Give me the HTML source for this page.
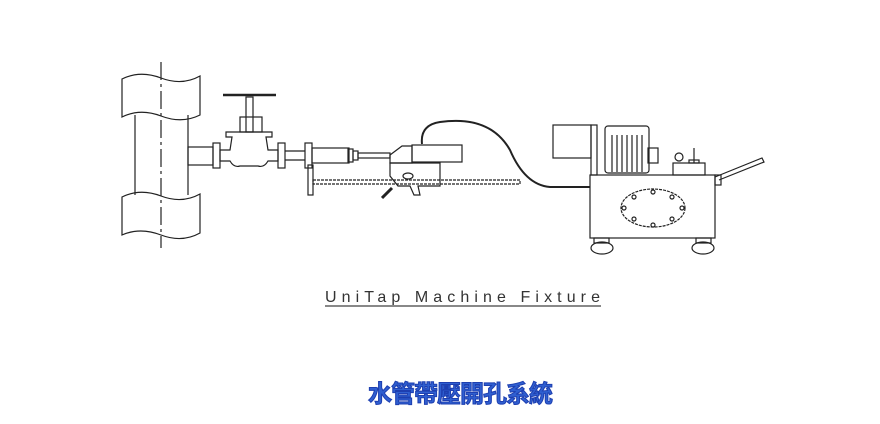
<!DOCTYPE html>
<html><head><meta charset="utf-8"><style>
html,body{margin:0;padding:0;background:#fff;width:880px;height:424px;overflow:hidden}
.cn{position:absolute;left:360px;top:374px;width:200px;text-align:center;font-family:"Liberation Sans","Noto Sans CJK TC",sans-serif;font-weight:bold;font-size:24px;color:#2f5fd0;-webkit-text-stroke:1px #1e3fb0;letter-spacing:-1px}
</style></head><body>
<svg width="880" height="424" style="position:absolute;left:0;top:0" fill="none" stroke="#222" stroke-width="1.2">
<!-- vertical pipe -->
<path d="M122 79 Q140 70 161 78 Q182 86 200 76 L200 115 Q182 124 161 116 Q140 108 122 117 Z"/>
<path d="M122 197 Q140 188 161 196 Q182 204 200 194 L200 233 Q182 243 161 235 Q140 227 122 235 Z"/>
<line x1="135" y1="115" x2="135" y2="195"/><line x1="188" y1="115" x2="188" y2="195"/>
<line x1="161" y1="62" x2="161" y2="248" stroke-dasharray="18 4 3 4"/>
<!-- stub -->
<rect x="188" y="147" width="25" height="18"/>
<rect x="213" y="143" width="7" height="25"/>
<!-- valve -->
<path d="M220 150 L230 150 L232 137 L226 137 L226 132 L272 132 L272 137 L266 137 L268 150 L278 150 L278 161 L268 161 Q264 168 258 166 L240 166 Q234 168 230 161 L220 161 Z"/>
<rect x="240" y="117" width="22" height="15"/>
<rect x="246" y="97" width="7" height="35"/>
<line x1="223" y1="95" x2="276" y2="95" stroke-width="2.5"/>
<rect x="278" y="143" width="7" height="25"/>
<line x1="285" y1="151" x2="305" y2="151"/><line x1="285" y1="160" x2="305" y2="160"/>
<rect x="305" y="143" width="7" height="25"/>
<rect x="312" y="148" width="37" height="15"/>
<rect x="348" y="149" width="5" height="13"/><rect x="353" y="151" width="5" height="9"/>
<rect x="358" y="153" width="32" height="5"/>
<!-- plate and rail -->
<rect x="308" y="165" width="5" height="30"/>
<rect x="313" y="180" width="207" height="4" stroke-dasharray="3 1"/>
<!-- cutting head -->
<path d="M390 155 L402 146 L412 146 L412 163 L390 163 Z"/>
<rect x="412" y="145" width="50" height="17"/>
<path d="M390 163 L440 163 L440 186 L418 186 L420 195 L414 195 L410 186 L398 186 L390 176 Z"/>
<ellipse cx="408" cy="176" rx="5" ry="3"/>
<path d="M382 198 L392 188" stroke-width="3"/>
<!-- hose -->
<path d="M422 144 Q420 125 440 122 Q490 115 510 150 Q525 185 550 187 L590 187" stroke-width="2"/>
<!-- HPU -->
<rect x="553" y="125" width="38" height="33"/>
<rect x="591" y="125" width="6" height="50"/>
<rect x="605" y="126" width="44" height="47" rx="3"/>
<path d="M612 135 V172 M617 135 V172 M622 135 V172 M627 135 V172 M632 135 V172 M637 135 V172 M642 135 V172"/>
<rect x="648" y="148" width="10" height="15"/>
<rect x="590" y="175" width="125" height="63"/>
<rect x="673" y="163" width="32" height="12"/>
<circle cx="679" cy="157" r="4"/>
<line x1="694" y1="148" x2="694" y2="163"/><rect x="689" y="160" width="10" height="3"/>
<path d="M715 177 L762 158 L764 162 L719 180"/>
<rect x="715" y="175" width="6" height="10"/>
<ellipse cx="653" cy="208" rx="32" ry="19" stroke-dasharray="3 1"/>
<g fill="#fff"><circle cx="653" cy="192" r="2"/><circle cx="653" cy="225" r="2"/><circle cx="624" cy="208" r="2"/><circle cx="682" cy="208" r="2"/><circle cx="634" cy="197" r="2"/><circle cx="672" cy="197" r="2"/><circle cx="634" cy="219" r="2"/><circle cx="672" cy="219" r="2"/></g>
<rect x="594" y="238" width="15" height="5"/><rect x="696" y="238" width="15" height="5"/>
<ellipse cx="602" cy="248" rx="11" ry="6"/><ellipse cx="703" cy="248" rx="11" ry="6"/>
<!-- caption -->
<text x="325" y="302" font-family="Liberation Sans,sans-serif" font-size="16" fill="#333" stroke="none" textLength="275" lengthAdjust="spacing">UniTap  Machine  Fixture</text>
<line x1="325" y1="306" x2="601" y2="306" stroke="#888" stroke-width="2"/>
</svg>
<div class="cn">水管帶壓開孔系統</div>
</body></html>
